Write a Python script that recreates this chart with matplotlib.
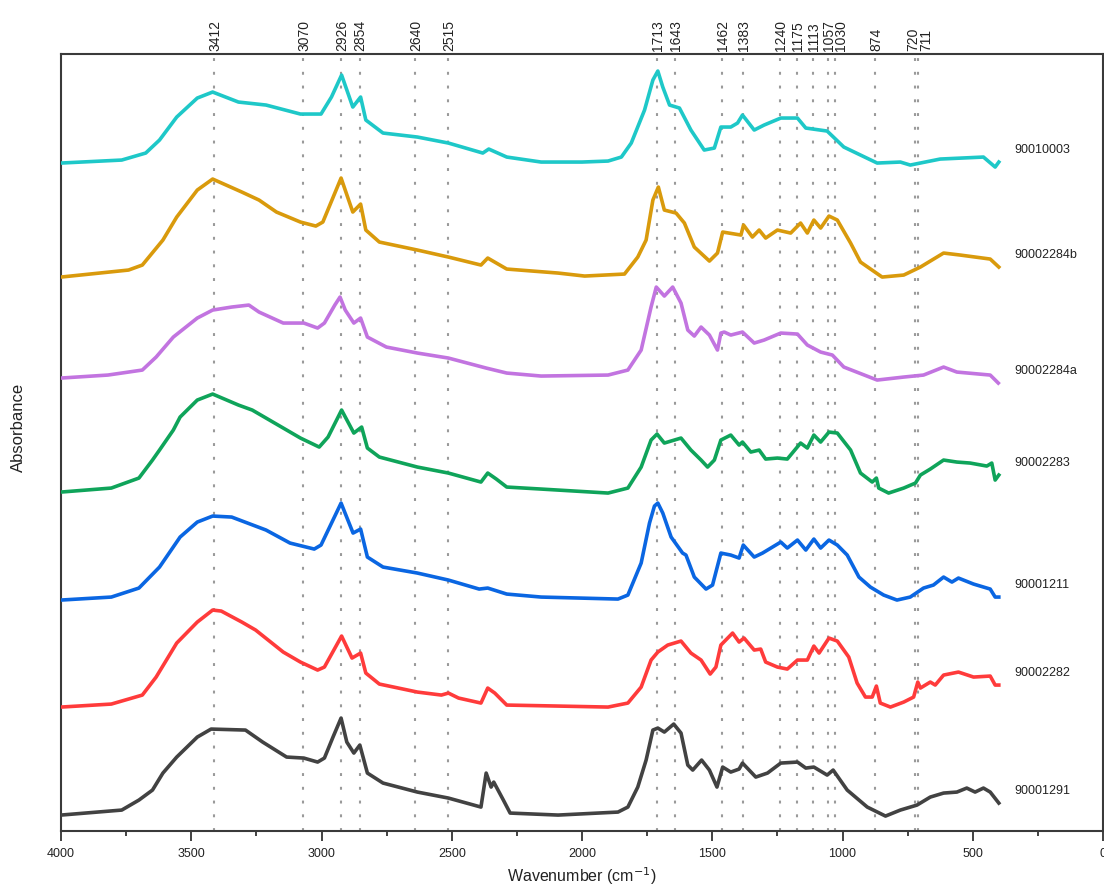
import matplotlib
matplotlib.use("Agg")
import matplotlib.pyplot as plt
import matplotlib.transforms as mtransforms
import numpy as np

plt.rcParams['font.family'] = ['Liberation Sans', 'DejaVu Sans']

# FTIR spectra, stacked (wavenumber cm-1, absorbance with offset)
s_90010003 = [(4000, 6.68), (3767, 6.71), (3675, 6.78), (3622, 6.91), (3556, 7.14), (3477, 7.33), (3418, 7.39),
              (3319, 7.29), (3213, 7.26), (3081, 7.17), (3002, 7.17), (2962, 7.34), (2923, 7.56), (2880, 7.24),
              (2850, 7.34), (2830, 7.11), (2764, 6.98), (2632, 6.94), (2513, 6.88), (2381, 6.78), (2358, 6.82),
              (2289, 6.74), (2157, 6.69), (2000, 6.69), (1900, 6.70), (1849, 6.74), (1811, 6.88), (1760, 7.21),
              (1728, 7.51), (1709, 7.60), (1690, 7.44), (1664, 7.26), (1626, 7.23), (1582, 7.01), (1531, 6.81),
              (1492, 6.83), (1467, 7.04), (1429, 7.04), (1403, 7.08), (1384, 7.16), (1339, 7.01), (1301, 7.06),
              (1237, 7.13), (1173, 7.13), (1141, 7.03), (1059, 7.00), (995, 6.84), (867, 6.68), (778, 6.69),
              (740, 6.66), (625, 6.72), (459, 6.74), (414, 6.64), (400, 6.69)]
s_90002284b = [(4000, 5.54), (3741, 5.61), (3688, 5.66), (3609, 5.91), (3556, 6.14), (3477, 6.41), (3418, 6.52),
               (3306, 6.39), (3240, 6.31), (3173, 6.19), (3081, 6.09), (3022, 6.05), (2995, 6.09), (2925, 6.53),
               (2880, 6.19), (2850, 6.27), (2830, 6.01), (2778, 5.89), (2632, 5.81), (2513, 5.74), (2388, 5.66),
               (2362, 5.73), (2289, 5.62), (2092, 5.58), (1990, 5.55), (1837, 5.57), (1786, 5.74), (1754, 5.91),
               (1728, 6.31), (1707, 6.44), (1684, 6.21), (1639, 6.18), (1607, 6.08), (1569, 5.84), (1511, 5.70),
               (1480, 5.78), (1460, 5.99), (1390, 5.96), (1380, 6.06), (1346, 5.94), (1320, 6.01), (1295, 5.93),
               (1250, 6.01), (1199, 5.98), (1161, 6.08), (1135, 5.98), (1110, 6.11), (1084, 6.03), (1052, 6.15),
               (1020, 6.11), (969, 5.88), (931, 5.69), (848, 5.54), (765, 5.56), (701, 5.64), (612, 5.78),
               (548, 5.76), (433, 5.72), (400, 5.64)]
s_90002284a = [(4000, 4.53), (3820, 4.56), (3688, 4.61), (3635, 4.74), (3569, 4.94), (3477, 5.13), (3418, 5.21),
               (3345, 5.24), (3279, 5.26), (3240, 5.19), (3147, 5.08), (3068, 5.08), (3015, 5.03), (2989, 5.08),
               (2949, 5.26), (2929, 5.34), (2909, 5.21), (2876, 5.08), (2850, 5.13), (2824, 4.94), (2751, 4.84),
               (2632, 4.78), (2513, 4.73), (2368, 4.63), (2289, 4.58), (2157, 4.55), (1900, 4.56), (1824, 4.61),
               (1773, 4.81), (1735, 5.24), (1715, 5.44), (1684, 5.35), (1652, 5.44), (1620, 5.28), (1594, 5.01),
               (1569, 4.95), (1543, 5.04), (1511, 4.96), (1480, 4.81), (1467, 4.98), (1454, 4.99), (1429, 4.96),
               (1384, 4.99), (1339, 4.88), (1301, 4.91), (1237, 4.98), (1173, 4.97), (1135, 4.86), (1084, 4.79),
               (1039, 4.76), (995, 4.64), (867, 4.51), (765, 4.54), (689, 4.56), (612, 4.64), (561, 4.59),
               (433, 4.56), (402, 4.48)]
s_90002283 = [(4000, 3.39), (3807, 3.43), (3701, 3.53), (3649, 3.71), (3622, 3.81), (3569, 4.01), (3543, 4.14),
              (3477, 4.31), (3418, 4.37), (3319, 4.26), (3266, 4.21), (3147, 4.03), (3081, 3.93), (3009, 3.84),
              (2975, 3.94), (2923, 4.21), (2876, 3.98), (2846, 4.04), (2824, 3.83), (2778, 3.74), (2632, 3.64),
              (2513, 3.58), (2388, 3.49), (2362, 3.58), (2329, 3.52), (2289, 3.44), (2157, 3.42), (1900, 3.38),
              (1824, 3.43), (1773, 3.64), (1735, 3.91), (1712, 3.97), (1684, 3.88), (1620, 3.93), (1582, 3.81),
              (1543, 3.71), (1518, 3.64), (1492, 3.71), (1467, 3.91), (1429, 3.96), (1397, 3.86), (1384, 3.89),
              (1352, 3.79), (1320, 3.81), (1295, 3.72), (1250, 3.73), (1212, 3.72), (1161, 3.88), (1135, 3.83),
              (1110, 3.96), (1084, 3.89), (1052, 3.99), (1020, 3.98), (969, 3.81), (931, 3.58), (886, 3.49),
              (870, 3.53), (861, 3.43), (823, 3.38), (765, 3.43), (720, 3.48), (701, 3.56), (663, 3.62),
              (612, 3.71), (561, 3.69), (510, 3.68), (446, 3.65), (427, 3.68), (414, 3.51), (400, 3.56)]
s_90001211 = [(4000, 2.31), (3807, 2.34), (3701, 2.43), (3622, 2.64), (3543, 2.94), (3477, 3.09), (3418, 3.15),
              (3345, 3.14), (3213, 3.01), (3121, 2.88), (3028, 2.82), (3002, 2.86), (2925, 3.28), (2879, 2.98),
              (2850, 3.02), (2824, 2.74), (2764, 2.64), (2632, 2.58), (2513, 2.51), (2395, 2.42), (2362, 2.43),
              (2289, 2.37), (2157, 2.34), (1862, 2.32), (1824, 2.36), (1773, 2.68), (1741, 3.08), (1722, 3.25),
              (1709, 3.28), (1690, 3.18), (1658, 2.94), (1614, 2.78), (1601, 2.76), (1569, 2.54), (1524, 2.42),
              (1499, 2.46), (1467, 2.78), (1429, 2.76), (1397, 2.73), (1381, 2.86), (1339, 2.74), (1307, 2.78),
              (1237, 2.89), (1212, 2.83), (1173, 2.91), (1141, 2.81), (1110, 2.92), (1084, 2.83), (1052, 2.91),
              (1020, 2.86), (982, 2.76), (937, 2.54), (893, 2.44), (842, 2.36), (791, 2.31), (740, 2.34),
              (689, 2.43), (651, 2.46), (612, 2.54), (580, 2.49), (555, 2.53), (497, 2.47), (433, 2.42),
              (414, 2.34), (400, 2.34)]
s_90002282 = [(4000, 1.24), (3807, 1.27), (3688, 1.36), (3635, 1.54), (3556, 1.88), (3477, 2.09), (3418, 2.21),
              (3385, 2.20), (3306, 2.09), (3253, 2.01), (3147, 1.79), (3081, 1.69), (3015, 1.61), (2989, 1.64),
              (2923, 1.95), (2883, 1.73), (2850, 1.78), (2830, 1.58), (2778, 1.47), (2632, 1.39), (2540, 1.36),
              (2513, 1.38), (2474, 1.33), (2388, 1.28), (2362, 1.43), (2335, 1.38), (2289, 1.26), (2092, 1.25),
              (1900, 1.24), (1824, 1.28), (1773, 1.44), (1735, 1.71), (1709, 1.79), (1671, 1.86), (1620, 1.90),
              (1582, 1.78), (1543, 1.71), (1508, 1.57), (1486, 1.64), (1467, 1.86), (1422, 1.98), (1397, 1.89),
              (1378, 1.93), (1339, 1.81), (1314, 1.82), (1295, 1.69), (1250, 1.64), (1212, 1.62), (1173, 1.71),
              (1135, 1.71), (1110, 1.85), (1090, 1.78), (1052, 1.93), (1020, 1.90), (976, 1.74), (944, 1.48),
              (912, 1.34), (886, 1.34), (870, 1.45), (855, 1.28), (816, 1.24), (765, 1.29), (727, 1.34),
              (711, 1.49), (701, 1.43), (663, 1.49), (644, 1.46), (612, 1.56), (555, 1.59), (497, 1.54),
              (433, 1.55), (414, 1.46), (400, 1.46)]
s_90001291 = [(4000, 0.16), (3767, 0.21), (3701, 0.31), (3649, 0.41), (3609, 0.58), (3556, 0.74), (3477, 0.94),
              (3424, 1.02), (3292, 1.01), (3226, 0.89), (3134, 0.74), (3068, 0.73), (3015, 0.69), (2989, 0.73),
              (2956, 0.94), (2925, 1.13), (2903, 0.89), (2876, 0.78), (2853, 0.86), (2824, 0.58), (2764, 0.48),
              (2632, 0.39), (2513, 0.33), (2388, 0.24), (2368, 0.58), (2349, 0.44), (2339, 0.49), (2302, 0.31),
              (2276, 0.18), (2092, 0.16), (1862, 0.19), (1824, 0.24), (1786, 0.44), (1754, 0.71), (1728, 1.01),
              (1709, 1.03), (1684, 0.99), (1648, 1.07), (1620, 0.98), (1594, 0.66), (1575, 0.61), (1541, 0.71),
              (1511, 0.61), (1482, 0.44), (1460, 0.64), (1429, 0.59), (1397, 0.62), (1384, 0.68), (1333, 0.54),
              (1288, 0.58), (1237, 0.68), (1173, 0.69), (1141, 0.63), (1110, 0.64), (1059, 0.56), (1036, 0.61),
              (982, 0.41), (905, 0.24), (835, 0.15), (778, 0.21), (714, 0.26), (663, 0.34), (612, 0.38),
              (561, 0.39), (523, 0.43), (491, 0.39), (459, 0.43), (433, 0.39), (400, 0.28)]

samples = ['90010003', '90002284b', '90002284a', '90002283', '90001211', '90002282', '90001291']
spectra = [s_90010003, s_90002284b, s_90002284a, s_90002283, s_90001211, s_90002282, s_90001291]
colors = ['#1ec8c8', '#d99a0c', '#c274e0', '#0fa45a', '#0a66e2', '#ff3b3b', '#424242']

peaks = [3412, 3070, 2926, 2854, 2640, 2515, 1713, 1643, 1462, 1383, 1240, 1175, 1113, 1057, 1030, 874, 720, 711]
# small sideways nudges (pixels) so crowded peak labels don't sit on top of each other
nudge = {1030: 5, 720: -3, 711: 7}

fig = plt.figure(figsize=(11.04, 8.86), dpi=100)
ax = fig.add_axes([0.0553, 0.062, 0.9438, 0.877])

for p in peaks:
    ax.axvline(p, color='#9a9a9a', lw=1.5, ls=(0, (1.4, 5.2)), zorder=1)

trans = mtransforms.blended_transform_factory(ax.transData, ax.transAxes)
for p in peaks:
    tr = mtransforms.offset_copy(trans, fig=fig, x=nudge.get(p, 0) + 1, y=3, units='dots')
    ax.text(p, 1.0, str(p), transform=tr, rotation=90, ha='center', va='bottom',
            fontsize=10, color='#222222', clip_on=False)

for name, spec, c in zip(samples, spectra, colors):
    w = np.array([s[0] for s in spec])
    a = np.array([s[1] for s in spec])
    ax.plot(w, a, color=c, lw=2.6, zorder=3, solid_joinstyle='round')
    ax.text(340, a[-1] + 0.12, name, fontsize=9, color='#222222', ha='left', va='center')

ax.set_xlim(4000, 0)
ax.set_ylim(0, 7.77)
ax.set_yticks([])
ax.set_xticks(np.arange(4000, -1, -500))
ax.set_xticks(np.arange(3750, 0, -500), minor=True)
ax.tick_params(axis='x', which='major', direction='out', length=7, width=1.3, pad=5,
               labelsize=9, colors='#333333', labelcolor='#222222')
ax.tick_params(axis='x', which='minor', direction='out', length=3.5, width=1.3, colors='#333333')
for sp in ax.spines.values():
    sp.set_color('#3a3a3a')
    sp.set_linewidth(1.5)

ax.set_xlabel('Wavenumber (cm$^{-1}$)', fontsize=11.5, labelpad=4, color='#222222')
ax.set_ylabel('Absorbance', fontsize=12, color='#222222')
ax.yaxis.set_label_coords(-0.034, 0.519)

fig.savefig('out.png', dpi=100)
